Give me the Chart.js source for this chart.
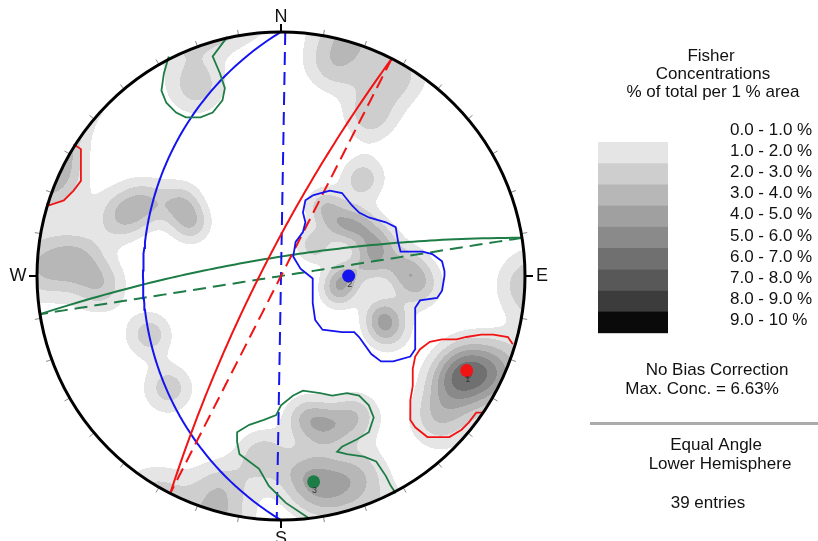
<!DOCTYPE html>
<html>
<head>
<meta charset="utf-8">
<script src="https://cdn.jsdelivr.net/npm/chart.js@4.4.1/dist/chart.umd.min.js"></script>
<style>
  html, body { margin: 0; padding: 0; background: #fff; }
  #wrap { width: 818px; height: 541px; }
</style>
</head>
<body>
<div id="wrap"><canvas id="net" width="818" height="541"></canvas></div>
<script>
/* Stereonet — Fisher pole concentrations, three joint sets */

// pole orientations of the 39 entries (trend / plunge, degrees)
const poleTrend  = [336, 290, 298, 306, 300, 272, 275, 267, 246, 225, 196, 14, 29, 29, 40,
                    32, 49, 58, 71, 91, 81, 105, 86, 94, 111, 117, 47,
                    115, 119, 122, 132, 113,
                    170, 163, 173, 168, 186, 152, 159];
const polePlunge = [9, 20, 25, 36, 44, 1, 10, 17, 29, 24, 5, 6, 3, 16, 35,
                    53, 54, 48, 44, 61, 49, 63, 36, 31, 42, 38, 69,
                    10, 6, 12, 8, 1,
                    29, 24, 11, 6, 17, 24, 7];

// mean set poles
const setLabels  = ['1', '2', '3'];
const meanTrend  = [117, 90, 171];
const meanPlunge = [9, 59, 9];
const setColors  = ['#f01414', '#1414f0', '#1e7d46'];
// strikes of the dashed (vertical) planes
const dashStrike = [27, 1, 81];

// set windows, net coordinates in % of primitive radius (x east, y north)
const set1WindowE = [[95,-28],[93,-25],[87,-24],[82,-24],[76,-25],[72,-26],[66,-26],[61,-27],[57,-30],[55,-33],
  [54,-38],[54,-45],[53,-51],[53,-59],[55,-62],[60,-66],[65,-66],[69,-66],[74,-63],[77,-60],[80,-56],[83,-56]];
const set1WindowW = [[-85,54],[-82,52],[-82,46],[-82,39],[-85,35],[-89,31],[-95,29],[-96,30]];
const set2Window = [[13,33],[20,35],[25,34],[29,29],[32,26],[36,24],[43,22],[47,20],[48,14],[49,10],[52,10],
  [58,10],[62,9],[66,6],[67,2],[67,0],[66,-6],[64,-9],[57,-10],[55,-13],[55,-18],[55,-25],[55,-30],[53,-33],
  [46,-35],[41,-35],[37,-32],[32,-25],[30,-23],[25,-23],[17,-22],[14,-18],[13,-11],[13,-1],[8,3],[5,8],
  [6,14],[9,18],[10,22],[9,26],[10,31],[13,33]];
const set3WindowN = [[-46,90],[-48,83],[-49,76],[-47,71],[-43,67],[-39,65],[-33,65],[-28,67],[-24,72],
  [-23,77],[-25,83],[-28,90],[-25,94],[-22,98]];
const set3WindowS = [[47,-89],[45,-86],[43,-82],[39,-76],[34,-74],[27,-73],[23,-72],[25,-70],[31,-67],
  [36,-64],[38,-58],[36,-53],[32,-49],[27,-48],[21,-49],[16,-48],[9,-47],[5,-49],[0,-53],[-2,-57],[-7,-59],
  [-13,-61],[-18,-64],[-18,-68],[-17,-73],[-13,-76],[-9,-79],[-5,-86],[2,-93],[11,-99]];

// contour bands
const bandLabels = ['0.0 - 1.0 %', '1.0 - 2.0 %', '2.0 - 3.0 %', '3.0 - 4.0 %', '4.0 - 5.0 %',
                    '5.0 - 6.0 %', '6.0 - 7.0 %', '7.0 - 8.0 %', '8.0 - 9.0 %', '9.0 - 10 %'];
const bandGrey   = [255, 229, 206, 183, 160, 138, 112, 88, 60, 10];

const fisherK = 100;
const D2R = Math.PI / 180;

function lineVec(trend, plunge) {
    const t = trend * D2R, p = plunge * D2R;
    return [Math.cos(p) * Math.sin(t), Math.cos(p) * Math.cos(t), Math.sin(p)];
}

// equal angle, lower hemisphere
function project(v) {
    let [e, n, d] = v;
    if (d < 0) { e = -e; n = -n; d = -d; }
    return { x: e / (1 + d), y: n / (1 + d) };
}

function greatCircle(dipDir, dip) {
    const s = (dipDir - 90) * D2R, dd = dipDir * D2R, dp = dip * D2R;
    const sv = [Math.sin(s), Math.cos(s), 0];
    const dv = [Math.cos(dp) * Math.sin(dd), Math.cos(dp) * Math.cos(dd), Math.sin(dp)];
    const pts = [];
    for (let a = 0; a <= 180; a += 2) {
        const c = Math.cos(a * D2R), si = Math.sin(a * D2R);
        pts.push(project([c * sv[0] + si * dv[0], c * sv[1] + si * dv[1], c * sv[2] + si * dv[2]]));
    }
    return pts;
}

const poleVecs = poleTrend.map((t, i) => lineVec(t, polePlunge[i]));

function concentration(e, n, d) {
    let s = 0;
    for (const p of poleVecs) {
        const c = Math.abs(e * p[0] + n * p[1] + d * p[2]);
        s += Math.exp(fisherK * (c - 1));
    }
    return s * fisherK / poleVecs.length;
}

const toXY = arr => arr.map(p => ({ x: p[0] / 100, y: p[1] / 100 }));

const datasets = [];
// mean poles on top
datasets.push({
    data: meanTrend.map((t, i) => project(lineVec(t, meanPlunge[i]))),
    pointRadius: 6.5,
    pointBackgroundColor: setColors,
    pointBorderWidth: 0,
    showLine: false
});
function addLine(pts, color, dash, width) {
    datasets.push({
        data: pts, showLine: true, borderColor: color, borderWidth: width,
        borderDash: dash, pointRadius: 0, fill: false, tension: 0
    });
}
addLine(toXY(set1WindowE), setColors[0], [], 1.8);
addLine(toXY(set1WindowW), setColors[0], [], 1.8);
addLine(toXY(set2Window), setColors[1], [], 1.8);
addLine(toXY(set3WindowN), setColors[2], [], 1.8);
addLine(toXY(set3WindowS), setColors[2], [], 1.8);
meanTrend.forEach((t, i) => {
    addLine(greatCircle((t + 180) % 360, 90 - meanPlunge[i]), setColors[i], [], 2);
    addLine(greatCircle((dashStrike[i] + 90) % 360, 90), setColors[i], [13, 7], 2);
});

const FONT = "'Liberation Sans', Arial, sans-serif";

const densityPlugin = {
    id: 'density',
    beforeDatasetsDraw(chart) {
        const { ctx, chartArea: a, scales: { x, y } } = chart;
        const w = Math.round(a.right - a.left), h = Math.round(a.bottom - a.top);
        const off = document.createElement('canvas');
        off.width = w; off.height = h;
        const octx = off.getContext('2d');
        const img = octx.createImageData(w, h);
        for (let j = 0; j < h; j++) {
            const v = y.getValueForPixel(a.top + j + 0.5);
            for (let i = 0; i < w; i++) {
                const u = x.getValueForPixel(a.left + i + 0.5);
                const r2 = u * u + v * v;
                if (r2 > 1) continue;
                const k = 1 + r2;
                const c = concentration(2 * u / k, 2 * v / k, (1 - r2) / k);
                const band = Math.min(9, Math.floor(c));
                if (band < 1) continue;
                const g = bandGrey[band], o = (j * w + i) * 4;
                img.data[o] = g; img.data[o + 1] = g; img.data[o + 2] = g; img.data[o + 3] = 255;
            }
        }
        octx.putImageData(img, 0, 0);
        ctx.save();
        ctx.filter = 'blur(0.7px)';
        ctx.drawImage(off, a.left, a.top);
        ctx.restore();
    },
    afterDatasetsDraw(chart) {
        const { ctx, scales: { x, y } } = chart;
        const cx = x.getPixelForValue(0), cy = y.getPixelForValue(0);
        const R = x.getPixelForValue(1) - cx;
        ctx.save();
        // ticks every 10 degrees
        for (let az = 0; az < 360; az += 10) {
            const major = az % 90 === 0;
            const s = Math.sin(az * D2R), c = Math.cos(az * D2R);
            ctx.beginPath();
            ctx.moveTo(cx + s * R, cy - c * R);
            ctx.lineTo(cx + s * (R + (major ? 8 : 6)), cy - c * (R + (major ? 8 : 6)));
            ctx.strokeStyle = major ? '#000' : '#888';
            ctx.lineWidth = major ? 2 : 1;
            ctx.stroke();
        }
        // primitive
        ctx.beginPath();
        ctx.arc(cx, cy, R, 0, Math.PI * 2);
        ctx.strokeStyle = '#000';
        ctx.lineWidth = 3;
        ctx.stroke();
        // compass letters
        ctx.fillStyle = '#111';
        ctx.font = '18px ' + FONT;
        ctx.textAlign = 'center';
        ctx.textBaseline = 'middle';
        ctx.fillText('N', cx, cy - R - 15);
        ctx.fillText('S', cx, cy + R + 19);
        ctx.fillText('W', cx - R - 19, cy);
        ctx.fillText('E', cx + R + 17, cy);
        // set labels under the mean poles
        ctx.font = '9px ' + FONT;
        ctx.fillStyle = '#333';
        meanTrend.forEach((t, i) => {
            const p = project(lineVec(t, meanPlunge[i]));
            ctx.fillText(setLabels[i], x.getPixelForValue(p.x) + 1, y.getPixelForValue(p.y) + 9);
        });
        ctx.restore();
    },
    afterDraw(chart) {
        const ctx = chart.ctx;
        ctx.save();
        ctx.fillStyle = '#111';
        ctx.font = '17px ' + FONT;
        ctx.textAlign = 'center';
        ctx.textBaseline = 'middle';
        ctx.fillText('Fisher', 711, 56);
        ctx.fillText('Concentrations', 713, 74);
        ctx.fillText('% of total per 1 % area', 713, 92);
        // legend swatch
        for (let b = 1; b < bandGrey.length; b++) {
            const g = bandGrey[b];
            ctx.fillStyle = `rgb(${g},${g},${g})`;
            ctx.fillRect(598, 142 + (b - 1) * 21.2, 70, 21.6);
        }
        ctx.fillStyle = '#111';
        ctx.textAlign = 'left';
        bandLabels.forEach((lbl, i) => ctx.fillText(lbl, 730, 130 + i * 21.2));
        ctx.textAlign = 'center';
        ctx.fillText('No Bias Correction', 717, 370);
        ctx.fillText('Max. Conc. = 6.63%', 702, 389);
        ctx.fillStyle = '#aaa';
        ctx.fillRect(590, 422, 228, 3);
        ctx.fillStyle = '#111';
        ctx.fillText('Equal Angle', 716, 445);
        ctx.fillText('Lower Hemisphere', 720, 464);
        ctx.fillText('39 entries', 708, 503);
        ctx.restore();
    }
};

new Chart(document.getElementById('net'), {
    type: 'scatter',
    data: { datasets },
    options: {
        responsive: false,
        animation: false,
        events: [],
        layout: { padding: { left: 37, top: 32, right: 293, bottom: 21 } },
        scales: {
            x: { type: 'linear', min: -1, max: 1, display: false },
            y: { type: 'linear', min: -1, max: 1, display: false }
        },
        plugins: { legend: { display: false }, tooltip: { enabled: false } }
    },
    plugins: [densityPlugin]
});
</script>
</body>
</html>
